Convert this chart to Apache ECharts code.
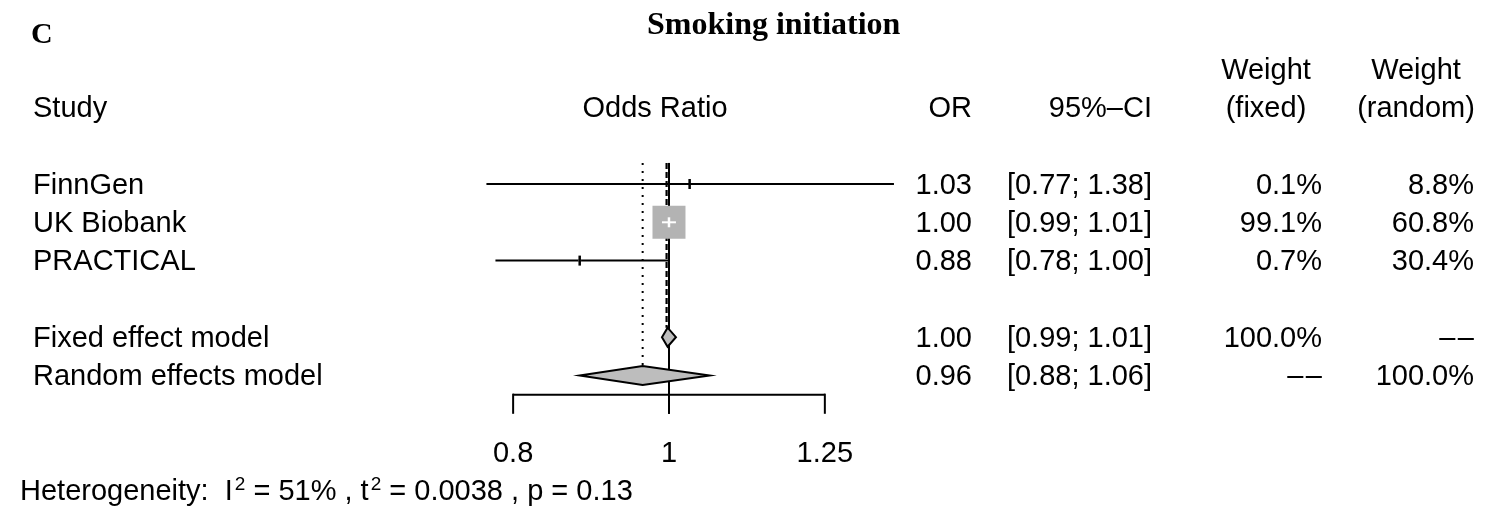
<!DOCTYPE html>
<html><head><meta charset="utf-8">
<script src="https://cdn.jsdelivr.net/npm/echarts@6/dist/echarts.min.js"></script>
<style>html,body{margin:0;padding:0;background:#fff}#c{width:1496px;height:508px}</style>
</head><body><div id="c"></div>
<script>
// ---------------- data ----------------
const studies = ['FinnGen', 'UK Biobank', 'PRACTICAL'];
const studyOR = [1.03, 1.00, 0.88];
const studyLower = [0.77, 0.99, 0.78];
const studyUpper = [1.38, 1.01, 1.00];
const studyWeightFixed = [0.1, 99.1, 0.7];
const studyWeightRandom = [8.8, 60.8, 30.4];
const models = ['Fixed effect model', 'Random effects model'];
const modelOR = [0.998, 0.963];
const modelLower = [0.99, 0.88];
const modelUpper = [1.01, 1.06];
const modelWeightFixed = [100.0, null];
const modelWeightRandom = [null, 100.0];
const axisTicks = [0.8, 1, 1.25];
const heteroI2 = '51%';
const heteroTau2 = '0.0038';
const heteroP = '0.13';
const titleText = 'Smoking initiation';
const panelLabel = 'C';
const headerTop = ['', '', '', '', 'Weight', 'Weight'];
const headerMain = ['Study', 'Odds Ratio', 'OR', '95%\u2013CI', '(fixed)', '(random)'];

// ---------------- helpers ----------------
const FONT = '29px "Liberation Sans", Arial, sans-serif';
const fmt2 = v => v.toFixed(2);
const fmtCI = (lo, hi) => '[' + fmt2(lo) + '; ' + fmt2(hi) + ']';
const fmtPct = v => v == null ? '\u2013\u200a\u2013' : v.toFixed(1) + '%';

const studyRows = studies.map((_, i) => i);
const modelRows = models.map((_, j) => studies.length + 1 + j);
const fixedRow = modelRows[0], randomRow = modelRows[1];

const maxW = Math.max(...studyWeightFixed);
const SQ_MAX = 33;
const TICK_H = 10;
const DIAMOND_H = 9.5;
const TEXT_DY = 1.5;

// table rows
const tableRows = [];
tableRows.push({ idx: -3, header: true, cells: headerTop });
tableRows.push({ idx: -2, header: true, cells: headerMain });
studies.forEach((s, i) => tableRows.push({ idx: studyRows[i], cells: [s, '', fmt2(studyOR[i]), fmtCI(studyLower[i], studyUpper[i]), fmtPct(studyWeightFixed[i]), fmtPct(studyWeightRandom[i])] }));
models.forEach((m, j) => tableRows.push({ idx: modelRows[j], cells: [m, '', fmt2(modelOR[j]), fmtCI(modelLower[j], modelUpper[j]), fmtPct(modelWeightFixed[j]), fmtPct(modelWeightRandom[j])] }));

const colHeader = [[33, 'left'], [655, 'center'], [972, 'right'], [1152, 'right'], [1266, 'center'], [1416, 'center']];
const colBody = [[33, 'left'], [655, 'center'], [972, 'right'], [1152, 'right'], [1322, 'right'], [1474, 'right']];

function txt(x, y, text, align, extra) {
  return { type: 'text', style: Object.assign({ text: text, x: x, y: y + TEXT_DY, textAlign: align, textVerticalAlign: 'middle', font: FONT, fill: '#000' }, extra || {}) };
}

const chart = echarts.init(document.getElementById('c'), null, { renderer: 'canvas' });

const option = {
  backgroundColor: '#fff',
  animation: false,
  grid: { left: 477.3, right: 592, top: 30.8, bottom: 17.6 },
  xAxis: { type: 'log', logBase: 10, min: 0.76, max: 1.40, show: false, splitLine: { show: false } },
  yAxis: { type: 'value', min: -4, max: 8, inverse: true, show: false, splitLine: { show: false } },
  graphic: [
    { type: 'text', left: 774 - 127, top: 10, style: { text: titleText, font: 'bold 32px "Liberation Serif", "Times New Roman", serif', fill: '#000' } },
    { type: 'text', left: 31, top: 20, style: { text: panelLabel, font: 'bold 30px "Liberation Serif", "Times New Roman", serif', fill: '#000' } }
  ],
  series: [
    // reference lines
    {
      type: 'custom', clip: false, silent: true,
      data: [[1, 0]],
      encode: { x: 0, y: 1 },
      renderItem: function (params, api) {
        const topIdx = -0.55;
        const x1 = api.coord([1, topIdx]);
        const x1b = api.coord([1, 6.0]);
        const xf = api.coord([modelOR[0], topIdx]);
        const xfb = api.coord([modelOR[0], fixedRow]);
        const xr = api.coord([modelOR[1], topIdx]);
        const xrb = api.coord([modelOR[1], randomRow]);
        return {
          type: 'group', children: [
            { type: 'line', shape: { x1: xr[0], y1: xr[1], x2: xrb[0], y2: xrb[1] - DIAMOND_H }, style: { stroke: '#000', lineWidth: 2, lineDash: [2, 6], lineCap: 'butt' } },
            { type: 'line', shape: { x1: x1[0], y1: x1[1], x2: x1b[0], y2: x1b[1] }, style: { stroke: '#000', lineWidth: 2 } },
            { type: 'line', shape: { x1: xf[0] - 1, y1: xf[1], x2: xfb[0] - 1, y2: xfb[1] - DIAMOND_H }, style: { stroke: '#000', lineWidth: 2.2, lineDash: [6, 3] } }
          ]
        };
      }
    },
    // studies
    {
      type: 'custom', clip: false, silent: true,
      data: studies.map((s, i) => [studyRows[i], studyOR[i], studyLower[i], studyUpper[i], studyWeightFixed[i]]),
      encode: { x: [1, 2, 3], y: 0 },
      renderItem: function (params, api) {
        const r = api.value(0), est = api.value(1), lo = api.value(2), hi = api.value(3), w = api.value(4);
        const pE = api.coord([est, r]);
        const pL = api.coord([lo, r]);
        const pH = api.coord([hi, r]);
        const s = SQ_MAX * Math.sqrt(w / maxW);
        const children = [
          { type: 'line', shape: { x1: pL[0], y1: pL[1], x2: pH[0], y2: pH[1] }, style: { stroke: '#000', lineWidth: 2 } },
          { type: 'rect', shape: { x: pE[0] - s / 2, y: pE[1] - s / 2, width: s, height: s }, style: { fill: '#b3b3b3' } }
        ];
        const inside = s > TICK_H + 2;
        if (inside) {
          const a = Math.max(pL[0], pE[0] - s / 2), b = Math.min(pH[0], pE[0] + s / 2);
          children.push({ type: 'line', shape: { x1: a, y1: pE[1], x2: b, y2: pE[1] }, style: { stroke: '#fff', lineWidth: 2 } });
        }
        children.push({ type: 'line', shape: { x1: pE[0], y1: pE[1] - TICK_H / 2, x2: pE[0], y2: pE[1] + TICK_H / 2 }, style: { stroke: inside ? '#fff' : '#000', lineWidth: 2.5 } });
        return { type: 'group', children: children };
      }
    },
    // model diamonds
    {
      type: 'custom', clip: false, silent: true,
      data: models.map((m, j) => [modelRows[j], modelOR[j], modelLower[j], modelUpper[j]]),
      encode: { x: [1, 2, 3], y: 0 },
      renderItem: function (params, api) {
        const r = api.value(0);
        const pE = api.coord([api.value(1), r]);
        const pL = api.coord([api.value(2), r]);
        const pH = api.coord([api.value(3), r]);
        return {
          type: 'polygon',
          shape: { points: [[pL[0], pE[1]], [pE[0], pE[1] - DIAMOND_H], [pH[0], pE[1]], [pE[0], pE[1] + DIAMOND_H]] },
          style: { fill: '#bdbdbd', stroke: '#000', lineWidth: 2, lineJoin: 'miter' }
        };
      }
    },
    // axis bracket + labels + heterogeneity
    {
      type: 'custom', clip: false, silent: true,
      data: [[1, 5.5]],
      encode: { x: 0, y: 1 },
      renderItem: function (params, api) {
        const lineIdx = 5.5, tickEnd = 6.0, labIdx = 7.02, hetIdx = 8.0;
        const a = api.coord([axisTicks[0], lineIdx]);
        const b = api.coord([axisTicks[axisTicks.length - 1], lineIdx]);
        const children = [{ type: 'line', shape: { x1: a[0], y1: a[1], x2: b[0], y2: b[1] }, style: { stroke: '#000', lineWidth: 2 } }];
        axisTicks.forEach(t => {
          const p = api.coord([t, lineIdx]);
          const q = api.coord([t, tickEnd]);
          const l = api.coord([t, labIdx]);
          children.push({ type: 'line', shape: { x1: p[0], y1: p[1] - 1, x2: q[0], y2: q[1] }, style: { stroke: '#000', lineWidth: 2 } });
          children.push(txt(l[0], l[1], String(t), 'center'));
        });
        const h = api.coord([1, hetIdx]);
        children.push({
          type: 'text',
          style: {
            x: 20, y: h[1] + TEXT_DY, textVerticalAlign: 'middle', textAlign: 'left',
            text: '{n|Heterogeneity:  I}{sup|2}{n| = ' + heteroI2 + ' , t}{sup|2}{n| = ' + heteroTau2 + ' , p = ' + heteroP + '}',
            fill: '#000',
            rich: {
              n: { fontSize: 29, fontFamily: 'Liberation Sans', lineHeight: 34, verticalAlign: 'middle', fill: '#000' },
              sup: { fontSize: 19, fontFamily: 'Liberation Sans', lineHeight: 14, verticalAlign: 'top', padding: [0, 0, 0, 2], fill: '#000' }
            }
          }
        });
        return { type: 'group', children: children };
      }
    },
    // table text
    {
      type: 'custom', clip: false, silent: true,
      data: tableRows.map(t => [1, t.idx]),
      encode: { x: 0, y: 1 },
      renderItem: function (params, api) {
        const row = tableRows[params.dataIndex];
        const y = api.coord([1, row.idx])[1];
        const cols = row.header ? colHeader : colBody;
        const children = [];
        row.cells.forEach((c, k) => { if (c) children.push(txt(cols[k][0], y, c, cols[k][1])); });
        return { type: 'group', children: children };
      }
    }
  ]
};
chart.setOption(option);
</script>
</body></html>
